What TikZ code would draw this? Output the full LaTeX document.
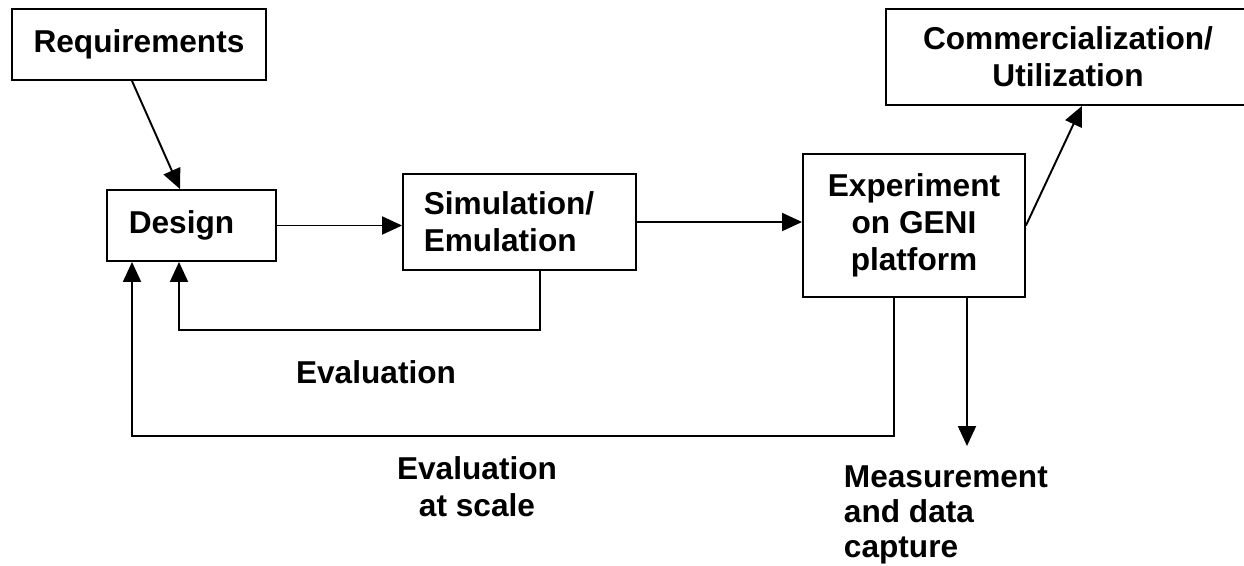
\documentclass[tikz,border=0pt]{standalone}
\usepackage{fontspec}
\setmainfont{Liberation Sans}
\usetikzlibrary{arrows.meta}
\tikzset{%
  >={Triangle[width=0.36cm,length=0.4cm]},
  % Specifications for style of nodes:
        base/.style = {rectangle, draw=black, line width=1.1pt,
                       inner sep=0pt, text centered,
                       font=\bfseries\fontsize{18}{21}\selectfont},
       stage/.style = {base, minimum height=1.42cm},
    bigstage/.style = {base, minimum height=1.92cm},
       label/.style = {inner sep=0pt, align=center,
                       font=\bfseries\fontsize{18}{21}\selectfont},
}
\begin{document}
\begin{tikzpicture}[x=0.02cm, y=-0.02cm, line width=1.1pt]
  \useasboundingbox (0,0) rectangle (1244,565);

  % Specification of nodes (position, etc.)
  \node (req)    [stage, minimum width=5.08cm]    at (139,44.5)  {Requirements};
  \node (design) [stage, minimum width=3.38cm]    at (191.5,225.5) {Design\hspace*{0.4cm}};
  \node (sim)    [bigstage, minimum width=4.66cm, align=left] at (519.5,222)
                                                  {Simulation/\hspace*{0.42cm}\\Emulation};
  \node (exp)    [base, minimum width=4.44cm, minimum height=2.86cm, align=center]
                                 at (914,225.5)   {Experiment\\on GENI\\platform};
  \node (comm)   [bigstage, minimum width=7.28cm, align=center] at (1068,57)
                                                  {Commercialization/\\Utilization};

  \node (eval)      [label] at (376,372) {Evaluation};
  \node (evalscale) [label] at (477,487) {Evaluation\\at scale};
  \node (meas)      [label, align=left, anchor=north west, inner ysep=10.8pt,
                     font=\bfseries\fontsize{18}{20}\selectfont]
                              at (843,446) {Measurement\\and data\\capture};

  % Specification of lines between nodes specified above
  \draw[->] ([xshift=-0.14cm]req.south) -- ([xshift=-0.23cm]design.north);
  \draw[->] (design.east) -- (design.east -| sim.west);
  \draw[->] (sim.east) -- (sim.east -| exp.west);
  \draw[->] (exp.east) -- ([xshift=0.28cm]comm.south);

  % feedback loops
  \draw[->] ([xshift=0.41cm]sim.south) -- ++(0,59) -| ([xshift=-0.25cm]design.south);
  \draw[->] ([xshift=-0.4cm]exp.south) -- ++(0,138) -| ([xshift=-1.19cm]design.south);
  \draw[->] ([xshift=1.06cm]exp.south) -- ([xshift=1.06cm]exp.south |- meas.north);

\end{tikzpicture}
\end{document}
